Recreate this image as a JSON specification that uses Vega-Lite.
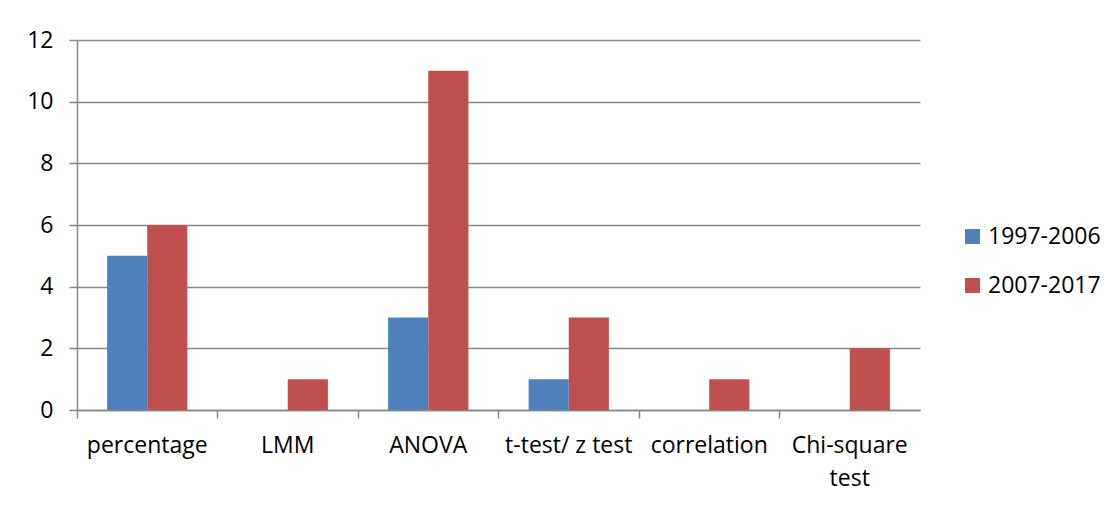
{
  "$schema": "https://vega.github.io/schema/vega-lite/v6.json",
  "autosize": {"type": "none"},
  "width": 843,
  "height": 370,
  "padding": {"left": 77, "top": 40, "right": 200, "bottom": 95},
  "background": "white",
  "data": {
    "values": [
      {"method": "percentage", "period": "1997-2006", "count": 5},
      {"method": "percentage", "period": "2007-2017", "count": 6},
      {"method": "LMM", "period": "1997-2006", "count": 0},
      {"method": "LMM", "period": "2007-2017", "count": 1},
      {"method": "ANOVA", "period": "1997-2006", "count": 3},
      {"method": "ANOVA", "period": "2007-2017", "count": 11},
      {"method": "t-test/ z test", "period": "1997-2006", "count": 1},
      {"method": "t-test/ z test", "period": "2007-2017", "count": 3},
      {"method": "correlation", "period": "1997-2006", "count": 0},
      {"method": "correlation", "period": "2007-2017", "count": 1},
      {"method": "Chi-square test", "period": "1997-2006", "count": 0},
      {"method": "Chi-square test", "period": "2007-2017", "count": 2}
    ]
  },
  "mark": {"type": "bar"},
  "encoding": {
    "x": {
      "field": "method",
      "type": "nominal",
      "sort": null,
      "scale": {"paddingInner": 0, "paddingOuter": 0},
      "axis": {
        "title": null,
        "labelAngle": 0,
        "bandPosition": 0,
        "labelExpr": "datum.label == 'Chi-square test' ? ['Chi-square', 'test'] : datum.label",
        "labelLineHeight": 33,
        "labelPadding": 16,
        "tickSize": 8,
        "labelFlush": false,
        "labelBound": false,
        "labelOverlap": false
      }
    },
    "xOffset": {
      "field": "period",
      "type": "nominal",
      "scale": {"paddingInner": 0, "paddingOuter": 0.75}
    },
    "y": {
      "field": "count",
      "type": "quantitative",
      "scale": {"domain": [0, 12], "nice": false},
      "axis": {
        "title": null,
        "values": [0, 2, 4, 6, 8, 10, 12],
        "tickSize": 8,
        "labelPadding": 16,
        "grid": true
      }
    },
    "color": {
      "field": "period",
      "type": "nominal",
      "scale": {"domain": ["1997-2006", "2007-2017"], "range": ["#4F81BD", "#C0504D"]},
      "legend": {
        "title": null,
        "orient": "none",
        "legendX": 884,
        "legendY": 185,
        "symbolType": "square",
        "symbolSize": 225,
        "symbolStrokeWidth": 0,
        "symbolOpacity": 1,
        "labelFontSize": 23,
        "labelFont": "Open Sans",
        "labelColor": "black",
        "labelOffset": 4,
        "rowPadding": 25,
        "padding": 0
      }
    }
  },
  "config": {
    "view": {"stroke": null},
    "axis": {
      "labelFont": "Open Sans",
      "labelFontSize": 23,
      "labelColor": "black",
      "domainColor": "#888888",
      "domainWidth": 1.5,
      "tickColor": "#888888",
      "tickWidth": 1.5,
      "gridColor": "#888888",
      "gridWidth": 1.5
    }
  }
}
